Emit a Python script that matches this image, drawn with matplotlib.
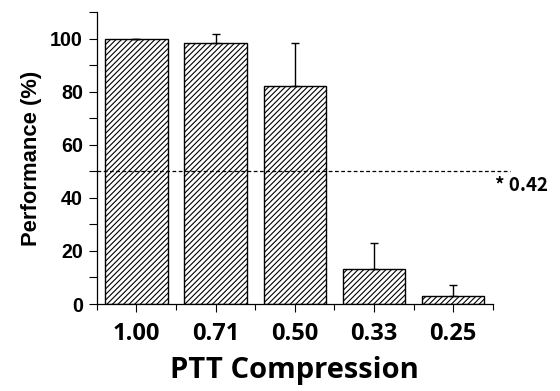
import numpy as np
import matplotlib
matplotlib.use('Agg')
import matplotlib.pyplot as plt
from matplotlib.ticker import MultipleLocator

categories = ["1.00", "0.71", "0.50", "0.33", "0.25"]
performance = [100.0, 98.2, 82.3, 13.2, 2.9]
err_up = [0.0, 3.6, 16.1, 9.8, 4.1]
chance_level = 50
chance_label = "* 0.42"

plt.rcParams['hatch.linewidth'] = 0.8

fig = plt.figure(figsize=(5.6, 3.91), dpi=100)
ax = fig.add_axes([0.173, 0.2225, 0.707, 0.7465])

x = np.arange(len(categories))
ax.bar(x, performance, width=0.79, color="white", edgecolor="black",
       linewidth=1.0, hatch="//////", zorder=2)
ax.errorbar(x, performance, yerr=[np.zeros(len(x)), err_up], fmt="none",
            ecolor="black", elinewidth=1.0, capsize=3, capthick=1.0, zorder=3)

ax.plot([-0.5, 4.72], [chance_level, chance_level], ls=(0, (3, 2)),
        color="black", lw=0.9, clip_on=False, zorder=4)
ax.text(4.86, 44.5, chance_label, ha="center", va="center", fontsize=13.5,
        family="Noto Sans CJK KR", fontweight="bold")

ax.set_xlim(-0.5, 4.5)
ax.set_ylim(0, 110)
ax.yaxis.set_minor_locator(MultipleLocator(10))
ax.set_yticks([0, 20, 40, 60, 80, 100])
ax.set_yticklabels(["0", "20", "40", "60", "80", "100"],
                   fontsize=14.2, fontweight="bold", family="Liberation Sans")

ax.set_xticks(x)
ax.set_xticklabels(categories, fontsize=17, fontweight="bold", family="Open Sans")
ax.set_xticks(np.arange(-0.5, 5.0, 1.0), minor=True)

ax.tick_params(axis="y", which="major", length=6, width=0.8, pad=4)
ax.tick_params(axis="y", which="minor", length=6, width=0.8)
ax.tick_params(axis="x", which="major", length=6, width=0.8, pad=7)
ax.tick_params(axis="x", which="minor", length=4, width=0.8)

for s in ["top", "right"]:
    ax.spines[s].set_visible(False)
for s in ["left", "bottom"]:
    ax.spines[s].set_linewidth(0.9)

ax.set_ylabel("Performance (%)", fontsize=15.8, fontweight="bold",
              family="Liberation Sans", labelpad=6)
ax.set_xlabel("PTT Compression", fontsize=21, fontweight="bold",
              family="Open Sans", labelpad=7)

fig.savefig("out.png", dpi=100)
